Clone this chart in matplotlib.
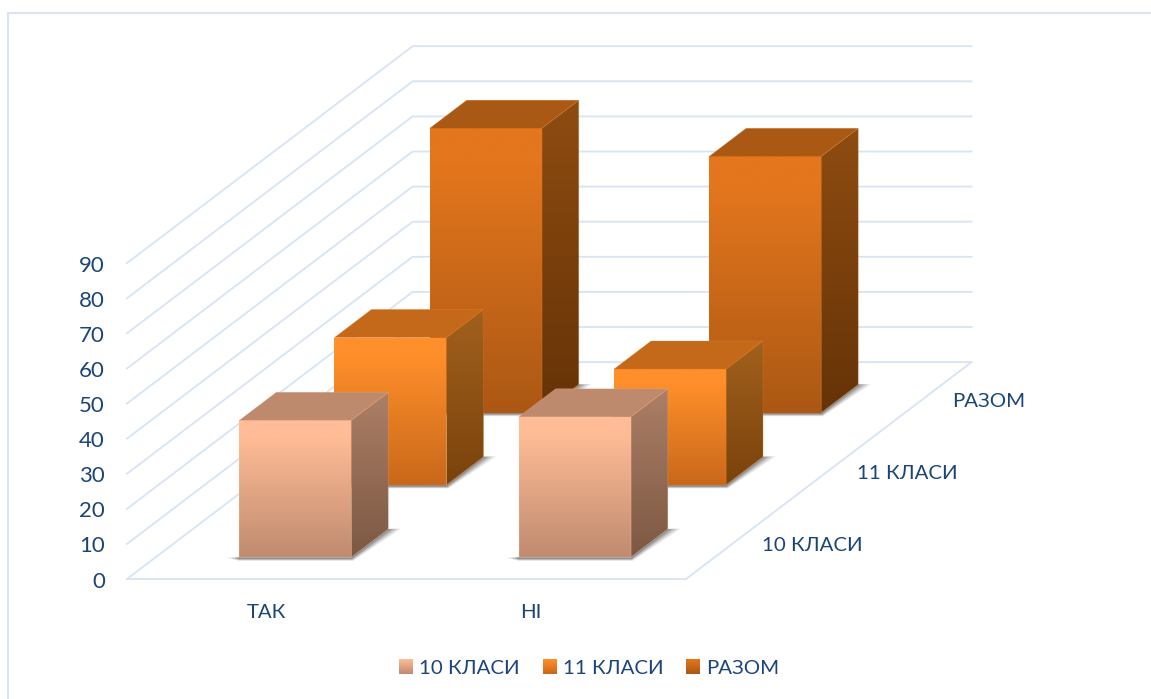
"""Draw the survey answers per class group as an oblique 3D bar chart."""

from __future__ import annotations

import matplotlib

matplotlib.use("Agg")

import matplotlib.pyplot as plt
import numpy as np
from matplotlib.colors import to_rgb
from matplotlib.patches import Polygon


CATEGORIES = ["ТАК", "НІ"]
SERIES_NAMES = ["10 КЛАСИ", "11 КЛАСИ", "РАЗОМ"]
VALUES_10 = [39, 40]
VALUES_11 = [42, 33]
VALUES_TOTAL = [81, 73]
Z_TICKS = [0, 10, 20, 30, 40, 50, 60, 70, 80, 90]

# Face colours per series: front (top, bottom), side (top, bottom), lid.
SERIES_STYLES = [
    ("#FFBC96", "#C08B70", "#AD7F66", "#7C5843", "#BE8A6E"),
    ("#FF8F2A", "#C9681A", "#A2611D", "#7A420C", "#C4691A"),
    ("#E4761D", "#AB5814", "#8E4C11", "#663307", "#AA5915"),
]

GRID_COLOR = "#D6E4F5"
TEXT_COLOR = "#1B4479"
FONT_SIZE = 14.7
TICK_FONT_SIZE = 16

# Oblique projection: pixels per category, per series step and per value unit.
ORIGIN_X = 127.0
ORIGIN_Y = 579.0
CATEGORY_STEP = 279.5
DEPTH_STEP_X = 95.2
DEPTH_STEP_Y = 72.3
VALUE_STEP = 3.51

BAR_START = 0.299
BAR_WIDTH = 0.401
DEPTH_START = 0.30
DEPTH_WIDTH = 0.39


def project(category: float, depth: float, value: float) -> tuple[float, float]:
    """Map category, series depth and value onto figure pixels."""
    x = ORIGIN_X + CATEGORY_STEP * category + DEPTH_STEP_X * depth
    y = ORIGIN_Y - DEPTH_STEP_Y * depth - VALUE_STEP * value
    return x, y


def blend(top: str, bottom: str, weights: np.ndarray) -> np.ndarray:
    """Return an RGB image interpolated between two colours."""
    start = np.array(to_rgb(top))
    end = np.array(to_rgb(bottom))
    return start + (end - start) * weights[..., None]


def fill_gradient(ax, points, top: str, bottom: str, hold: float = 0.0) -> None:
    """Fill a polygon with a vertical gradient that stays flat for the first part."""
    xs = [point[0] for point in points]
    ys = [point[1] for point in points]
    extent = (min(xs), max(xs), max(ys), min(ys))
    weights = np.clip((np.linspace(0, 1, 128) - hold) / (1 - hold), 0, 1).reshape(-1, 1)
    image = ax.imshow(
        blend(top, bottom, weights),
        extent=extent,
        aspect="auto",
        interpolation="bilinear",
        zorder=3,
    )
    patch = Polygon(points, closed=True, transform=ax.transData)
    image.set_clip_path(patch)


def draw_walls(ax) -> None:
    """Draw the wall gridlines and the floor outline."""
    for tick in Z_TICKS:
        front = project(0, 0, tick)
        back = project(0, 3, tick)
        right = project(2, 3, tick)
        ax.plot([front[0], back[0], right[0]], [front[1], back[1], right[1]], color=GRID_COLOR, lw=1.3, zorder=1)
        ax.text(front[0] - 22, front[1] + 2.5, str(tick), color=TEXT_COLOR, fontsize=TICK_FONT_SIZE, ha="right", va="center")

    corners = [project(0, 0, 0), project(2, 0, 0), project(2, 3, 0)]
    ax.plot([p[0] for p in corners], [p[1] for p in corners], color=GRID_COLOR, lw=1.3, zorder=1)


def draw_shadow(ax, category: int, depth: int) -> None:
    """Draw the soft contact shadow along the base of one bar."""
    left = category + BAR_START
    right = left + BAR_WIDTH
    near = depth + DEPTH_START
    far = near + DEPTH_WIDTH
    corner = project(right, near, 0)
    back = project(right, far, 0)
    front = project(left, near, 0)
    for spread, alpha in ((1.0, 0.10), (0.8, 0.12), (0.6, 0.16), (0.4, 0.2), (0.2, 0.25)):
        points = [
            (front[0] - 13 * spread, front[1] + 0.5),
            (front[0], front[1] + 1 + 2.5 * spread),
            (corner[0] + 2 * spread, corner[1] + 1 + 2.5 * spread),
            (back[0] + 13 * spread, back[1] - 0.5),
            back,
            corner,
            front,
        ]
        ax.add_patch(Polygon(points, closed=True, facecolor="#404040", edgecolor="none", alpha=alpha, zorder=2))


def draw_bar(ax, category: int, depth: int, value: float, style: tuple[str, ...]) -> None:
    """Draw the front, side and top faces of one bar."""
    front_top, front_bottom, side_top, side_bottom, lid = style
    left = category + BAR_START
    right = left + BAR_WIDTH
    near = depth + DEPTH_START
    far = near + DEPTH_WIDTH

    front = [project(left, near, 0), project(right, near, 0), project(right, near, value), project(left, near, value)]
    side = [project(right, near, 0), project(right, far, 0), project(right, far, value), project(right, near, value)]
    top = [project(left, near, value), project(right, near, value), project(right, far, value), project(left, far, value)]

    fill_gradient(ax, front, front_top, front_bottom, hold=0.12)
    fill_gradient(ax, side, side_top, side_bottom)
    ax.add_patch(Polygon(top, closed=True, facecolor=lid, edgecolor="none", zorder=3))
    for face in (front, side, top):
        ax.add_patch(Polygon(face, closed=True, fill=False, edgecolor=front_top, lw=0.6, alpha=0.25, zorder=3))


def draw_legend(ax) -> None:
    """Draw the legend row below the plot."""
    for name, style, swatch_x in zip(SERIES_NAMES, SERIES_STYLES, (399, 543, 686)):
        ax.imshow(
            blend(style[0], style[1], np.linspace(0, 1, 32).reshape(-1, 1)),
            extent=(swatch_x, swatch_x + 14, 674, 659),
            aspect="auto",
            zorder=3,
        )
        ax.text(swatch_x + 20, 668, name, color=TEXT_COLOR, fontsize=FONT_SIZE, ha="left", va="center")


def main() -> None:
    plt.rcParams["font.family"] = ["Lato", "Open Sans", "DejaVu Sans"]
    fig = plt.figure(figsize=(11.51, 6.99), dpi=100)
    ax = fig.add_axes([0, 0, 1, 1])

    # Chart area border only shows on the left and top.
    ax.plot([8.5, 8.5, 1151], [699, 13, 13], color=GRID_COLOR, lw=1.5, zorder=1)

    draw_walls(ax)

    series_values = [VALUES_10, VALUES_11, VALUES_TOTAL]
    for depth in reversed(range(len(series_values))):
        for category, value in enumerate(series_values[depth]):
            draw_shadow(ax, category, depth)
            draw_bar(ax, category, depth, value, SERIES_STYLES[depth])

    for category, (name, shift) in enumerate(zip(CATEGORIES, (0, -15))):
        x, y = project(category + 0.5, 0, 0)
        ax.text(x + shift, y + 33, name, color=TEXT_COLOR, fontsize=FONT_SIZE, ha="center", va="center")

    for depth, name in enumerate(SERIES_NAMES):
        x, y = project(2, depth + 0.5, 0)
        ax.text(x + 28, y + 3, name, color=TEXT_COLOR, fontsize=FONT_SIZE, ha="left", va="center")

    draw_legend(ax)

    ax.set_xlim(0, 1151)
    ax.set_ylim(699, 0)
    ax.axis("off")
    fig.savefig("out.png", dpi=100, facecolor="white")
    plt.close(fig)


if __name__ == "__main__":
    main()
